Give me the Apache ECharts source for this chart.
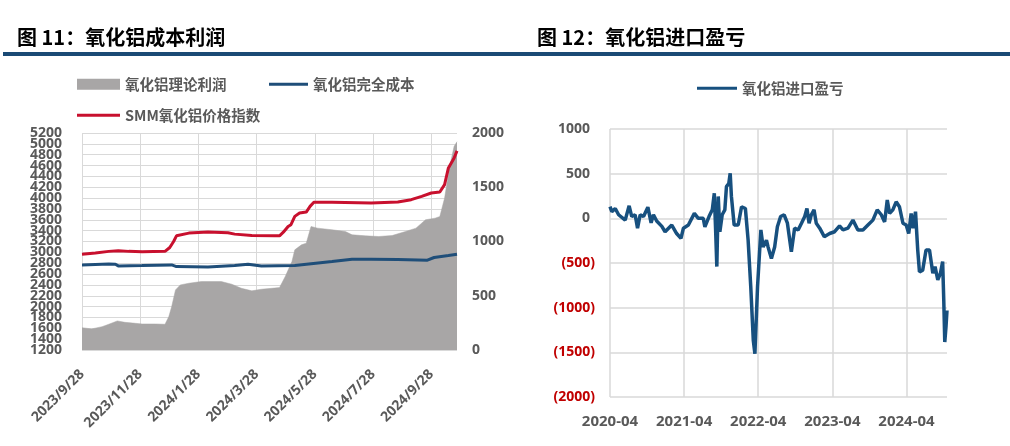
<!DOCTYPE html>
<html>
<head>
    <meta http-equiv="Content-Type" content="text/html; charset=utf-8">
    <title>氧化铝成本利润 / 进口盈亏</title>
    <style>
        html, body { margin: 0; padding: 0; background: #fff; }
        #main { width: 1010px; height: 446px; }
    </style>
</head>
<body>
    <div id="main"></div>
    <script src="https://cdn.jsdelivr.net/npm/echarts@6/dist/echarts.min.js"></script>
    <script>
        // 图11 左图：日期轴从 2023/9/28 开始
        var leftTickLabels = ['2023/9/28', '2023/11/28', '2024/1/28', '2024/3/28', '2024/5/28', '2024/7/28', '2024/9/28'];
        var leftEndDate = '2024-10-25';

        // 氧化铝理论利润（右轴）
        var profitDates = ['2023-09-28', '2023-10-08', '2023-10-19', '2023-10-26', '2023-11-04', '2023-11-12', '2023-11-23',
            '2023-11-30', '2023-12-14', '2023-12-24', '2023-12-28', '2023-12-31', '2024-01-04', '2024-01-09', '2024-01-18',
            '2024-01-31', '2024-02-21', '2024-03-03', '2024-03-13', '2024-03-24', '2024-04-03', '2024-04-22', '2024-04-28',
            '2024-05-05', '2024-05-08', '2024-05-15', '2024-05-20', '2024-05-25', '2024-06-01', '2024-06-16', '2024-06-30',
            '2024-07-07', '2024-07-21', '2024-08-04', '2024-08-18', '2024-09-01', '2024-09-12', '2024-09-22', '2024-10-02',
            '2024-10-07', '2024-10-12', '2024-10-17', '2024-10-22', '2024-10-25'];
        var profitValues = [206, 194, 215, 237, 268, 255, 246,
            240, 240, 237, 308, 400, 554, 600, 615,
            631, 631, 606, 569, 545, 560, 575, 677,
            815, 923, 969, 985, 1138, 1123, 1108, 1092,
            1062, 1052, 1046, 1055, 1092, 1123, 1200, 1215,
            1230, 1400, 1677, 1877, 1920];

        // 氧化铝完全成本（左轴）
        var costDates = ['2023-09-28', '2023-10-26', '2023-11-02', '2023-11-05', '2023-11-30', '2023-12-31', '2024-01-05',
            '2024-02-07', '2024-03-06', '2024-03-20', '2024-04-03', '2024-05-08', '2024-05-30', '2024-06-16', '2024-07-07',
            '2024-07-27', '2024-08-24', '2024-09-24', '2024-10-01', '2024-10-16', '2024-10-25'];
        var costValues = [2769, 2787, 2781, 2750, 2756, 2769, 2738,
            2732, 2756, 2781, 2750, 2757, 2800, 2830, 2874,
            2874, 2868, 2856, 2905, 2942, 2966];

        // SMM氧化铝价格指数（左轴）
        var priceDates = ['2023-09-28', '2023-10-12', '2023-10-26', '2023-11-05', '2023-11-16', '2023-11-30', '2023-12-24',
            '2023-12-29', '2024-01-02', '2024-01-05', '2024-01-18', '2024-02-07', '2024-02-28', '2024-03-06', '2024-03-24',
            '2024-04-17', '2024-04-22', '2024-04-26', '2024-05-01', '2024-05-04', '2024-05-08', '2024-05-13', '2024-05-20',
            '2024-05-24', '2024-05-28', '2024-06-16', '2024-07-27', '2024-08-24', '2024-09-07', '2024-09-18', '2024-09-28',
            '2024-10-07', '2024-10-12', '2024-10-16', '2024-10-19', '2024-10-22', '2024-10-25'];
        var priceValues = [2965, 2988, 3018, 3030, 3018, 3012, 3018,
            3090, 3200, 3305, 3355, 3374, 3360, 3336, 3312,
            3305, 3305, 3372, 3478, 3510, 3663, 3725, 3743,
            3848, 3922, 3922, 3910, 3928, 3971, 4033, 4094,
            4112, 4248, 4556, 4648, 4740, 4870];

        // 图12 右图：氧化铝进口盈亏
        var rightTickLabels = ['2020-04', '2021-04', '2022-04', '2023-04', '2024-04'];
        var rightEndDate = '2024-10-18';
        var importDates = ['2020-04-01', '2020-04-10', '2020-04-27', '2020-05-13', '2020-06-15', '2020-07-04', '2020-07-17',
            '2020-08-03', '2020-08-15', '2020-08-28', '2020-09-14', '2020-10-05', '2020-10-21', '2020-11-02', '2020-11-18',
            '2020-12-13', '2020-12-29', '2021-02-01', '2021-02-25', '2021-03-16', '2021-03-28', '2021-04-22', '2021-05-21',
            '2021-06-10', '2021-07-04', '2021-07-12', '2021-08-02', '2021-08-18', '2021-08-28', '2021-09-04', '2021-09-10',
            '2021-09-17', '2021-09-25', '2021-10-06', '2021-10-19', '2021-10-27', '2021-11-08', '2021-11-15', '2021-11-21',
            '2021-12-04', '2021-12-24', '2022-01-10', '2022-01-29', '2022-02-12', '2022-02-25', '2022-03-07', '2022-03-15',
            '2022-03-28', '2022-04-14', '2022-04-25', '2022-05-11', '2022-05-19', '2022-06-05', '2022-06-21', '2022-07-04',
            '2022-07-20', '2022-08-07', '2022-08-23', '2022-09-12', '2022-09-28', '2022-10-15', '2022-11-01', '2022-11-17',
            '2022-11-28', '2022-12-08', '2022-12-19', '2023-01-02', '2023-01-13', '2023-01-30', '2023-02-22', '2023-03-18',
            '2023-04-12', '2023-05-06', '2023-05-23', '2023-06-17', '2023-07-11', '2023-08-05', '2023-08-30', '2023-09-24',
            '2023-10-18', '2023-11-09', '2023-11-29', '2023-12-15', '2023-12-28', '2024-01-09', '2024-01-25', '2024-02-11',
            '2024-02-27', '2024-03-14', '2024-03-30', '2024-04-12', '2024-04-24', '2024-05-03', '2024-05-15', '2024-05-26',
            '2024-06-04', '2024-06-20', '2024-07-06', '2024-07-23', '2024-08-09', '2024-08-20', '2024-09-03', '2024-09-16',
            '2024-09-27', '2024-10-02', '2024-10-07', '2024-10-13', '2024-10-18'];
        var importValues = [130, 75, 110, 40, -20, 140, 20,
            40, -110, 40, 20, 125, -50, 40, -30,
            -90, -150, -75, -170, -225, -110, -75, 55,
            0, 0, -95, 20, 95, 280, -130, -540,
            245, -150, 40, 95, 355, 390, 505, 245,
            -75, -75, 130, 110, -245, -765, -1365, -1515,
            -765, -130, -320, -245, -320, -450, -320, -95,
            20, 40, -55, -375, -110, -130, -55, 20,
            110, -55, 40, 95, -55, -110, -205, -170,
            -150, -85, -130, -110, -20, -130, -130, -75,
            -20, 95, 40, -40, 205, 55, 95, 185,
            130, -55, -75, -170, 55, -110, 75, -355,
            -600, -580, -355, -355, -615, -540, -690, -615,
            -485, -915, -1385, -1215, -1030];

        // 日期 -> 轴上的数值
        function dayIndex(s) {
            var p = s.split('-');
            return (Date.UTC(+p[0], p[1] - 1, +p[2]) - Date.UTC(2023, 8, 28)) / 86400000;
        }
        function monthIndex(s) {
            var p = s.split('-');
            return (p[0] - 2020) * 12 + (p[1] - 4) + (p[2] - 1) / 30.5;
        }
        function pairs(dates, values, fn) {
            return dates.map(function (d, i) { return [fn(d), values[i]]; });
        }

        var gridColor = '#D9D9D9';
        var labelColor = '#595959';
        var cjk = '"Noto Sans CJK SC", sans-serif';
        var num = '"Open Sans", sans-serif';
        var legendText = { color: labelColor, fontSize: 14.5, fontWeight: 'bold', fontFamily: cjk };
        var lineIcon = 'rect';
        var leftLabel = { margin: 20, color: labelColor, fontSize: 14, fontWeight: 'bold', fontFamily: num };

        var myChart = echarts.init(document.getElementById('main'));
        var option = {
            animation: false,
            title: [
                { text: '图 11：氧化铝成本利润', left: 17, top: 27, padding: 0, textStyle: { color: '#000', fontSize: 20, fontWeight: 'bold', fontFamily: cjk } },
                { text: '图 12：氧化铝进口盈亏', left: 537, top: 27, padding: 0, textStyle: { color: '#000', fontSize: 20, fontWeight: 'bold', fontFamily: cjk } }
            ],
            graphic: [
                { type: 'rect', left: 3, top: 52, shape: { width: 1007, height: 4 }, style: { fill: '#1A4A75' } }
            ],
            legend: [
                { data: [{ name: '氧化铝理论利润', icon: 'rect' }], left: 77, top: 77, padding: 0, itemWidth: 43, itemHeight: 11, textStyle: legendText },
                { data: [{ name: '氧化铝完全成本', icon: lineIcon }], left: 269, top: 77, padding: 0, itemWidth: 39, itemHeight: 3, textStyle: legendText },
                { data: [{ name: 'SMM氧化铝价格指数', icon: lineIcon }], left: 77, top: 108, padding: 0, itemWidth: 43, itemHeight: 3, textStyle: legendText },
                { data: [{ name: '氧化铝进口盈亏', icon: lineIcon }], left: 697, top: 81, padding: 0, itemWidth: 40, itemHeight: 3, textStyle: legendText }
            ],
            grid: [
                { left: 82, right: 553, top: 133, bottom: 96 },
                { left: 610, right: 63, top: 129, bottom: 49 }
            ],
            xAxis: [
                {
                    type: 'value', gridIndex: 0, min: 0, max: dayIndex(leftEndDate), interval: 61,
                    axisLine: { show: false }, axisTick: { show: false },
                    splitLine: { show: true, showMaxLine: false, lineStyle: { color: gridColor, width: 1 } },
                    axisLabel: {
                        rotate: 45, margin: 22, color: labelColor, fontSize: 14, fontWeight: 'bold', fontFamily: num,
                        showMaxLabel: false,
                        formatter: function (v) {
                            var k = v / 61;
                            return Math.abs(k - Math.round(k)) < 1e-6 ? (leftTickLabels[Math.round(k)] || '') : '';
                        }
                    }
                },
                {
                    type: 'value', gridIndex: 1, min: 0, max: monthIndex(rightEndDate), interval: 12,
                    axisLine: { show: false }, axisTick: { show: false },
                    splitLine: { show: true, showMaxLine: false, lineStyle: { color: gridColor, width: 1.5 } },
                    axisLabel: {
                        margin: 17, color: labelColor, fontSize: 15, fontWeight: 'bold', fontFamily: num,
                        showMaxLabel: false,
                        formatter: function (v) {
                            var k = v / 12;
                            return Math.abs(k - Math.round(k)) < 1e-6 ? (rightTickLabels[Math.round(k)] || '') : '';
                        }
                    }
                }
            ],
            yAxis: [
                {
                    // 内部刻度 1400–5000（标签很密，两端由 yAxis[3] 显示）
                    type: 'value', gridIndex: 0, min: 1200, max: 5200, interval: 200,
                    axisLine: { show: false }, axisTick: { show: false },
                    splitLine: { lineStyle: { color: gridColor, width: 1 } },
                    axisLabel: Object.assign({
                        showMinLabel: false, showMaxLabel: false,
                        formatter: function (v) { return String(v); }
                    }, leftLabel)
                },
                {
                    type: 'value', gridIndex: 0, position: 'right', min: 0, max: 2000, interval: 500,
                    axisLine: { show: false }, axisTick: { show: false }, splitLine: { show: false },
                    axisLabel: {
                        margin: 15, color: labelColor, fontSize: 14, fontWeight: 'bold', fontFamily: num,
                        formatter: function (v) { return String(v); }
                    }
                },
                {
                    type: 'value', gridIndex: 1, min: -2000, max: 1000, interval: 500,
                    axisLine: { show: false }, axisTick: { show: false },
                    splitLine: { lineStyle: { color: gridColor, width: 1.5 } },
                    axisLabel: {
                        margin: 15,
                        formatter: function (v) {
                            return v < 0 ? '{neg|(' + (-v) + ')}' : '{pos|' + v + '}{pad| }';
                        },
                        rich: {
                            neg: { color: '#C00000', fontSize: 14, fontWeight: 'bold', fontFamily: num },
                            pos: { color: labelColor, fontSize: 14, fontWeight: 'bold', fontFamily: num },
                            pad: { width: 5, fontSize: 14 }
                        }
                    }
                },
                {
                    // 左轴两端 1200 / 5200
                    type: 'value', gridIndex: 0, position: 'left', offset: 0, min: 1200, max: 5200, interval: 4000,
                    axisLine: { show: false }, axisTick: { show: false }, splitLine: { show: false },
                    axisLabel: Object.assign({
                        showMinLabel: true, showMaxLabel: true,
                        formatter: function (v) { return String(v); }
                    }, leftLabel)
                }
            ],
            series: [
                {
                    name: '氧化铝理论利润', type: 'line', xAxisIndex: 0, yAxisIndex: 1,
                    data: pairs(profitDates, profitValues, dayIndex),
                    symbol: 'none', lineStyle: { width: 0.5, color: '#A8A6A6' },
                    itemStyle: { color: '#A8A6A6' },
                    areaStyle: { color: '#A8A6A6', opacity: 1 }
                },
                {
                    name: '氧化铝完全成本', type: 'line', xAxisIndex: 0, yAxisIndex: 0,
                    data: pairs(costDates, costValues, dayIndex),
                    symbol: 'none', lineStyle: { width: 3, color: '#1F4E79' }, itemStyle: { color: '#1F4E79' }
                },
                {
                    name: 'SMM氧化铝价格指数', type: 'line', xAxisIndex: 0, yAxisIndex: 0,
                    data: pairs(priceDates, priceValues, dayIndex),
                    symbol: 'none', lineStyle: { width: 3, color: '#C8102E' }, itemStyle: { color: '#C8102E' }
                },
                {
                    name: '氧化铝进口盈亏', type: 'line', xAxisIndex: 1, yAxisIndex: 2,
                    data: pairs(importDates, importValues, monthIndex),
                    symbol: 'none', lineStyle: { width: 3.5, color: '#17507F' }, itemStyle: { color: '#17507F' }
                }
            ]
        };
        myChart.setOption(option);
    </script>
</body>
</html>
